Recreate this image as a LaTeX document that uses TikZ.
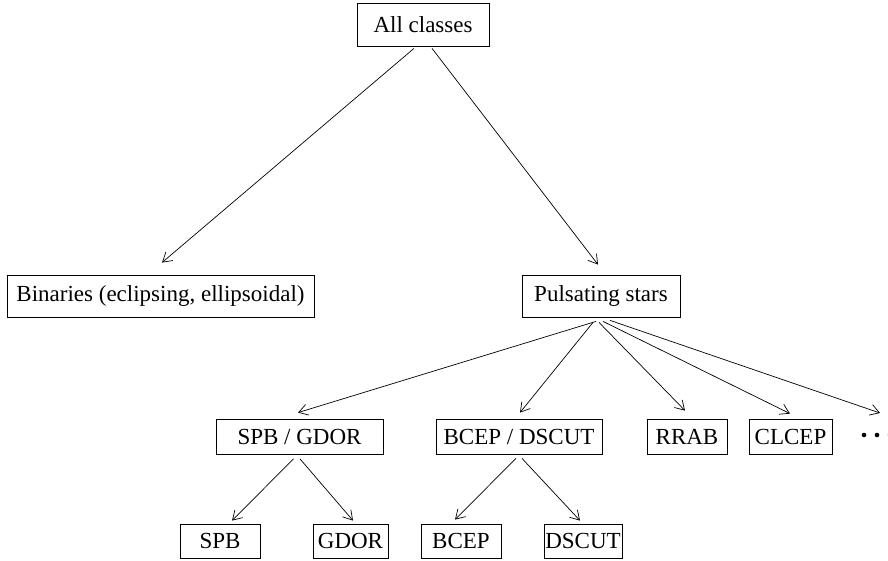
\documentclass[tikz,border=0pt]{standalone}
\usepackage{fontspec}
\setmainfont{Liberation Serif}
\usetikzlibrary{arrows.meta}
\begin{document}
\begin{tikzpicture}[x=1pt,y=-1pt,
  box/.style={draw,line width=0.8pt,inner sep=0pt,font=\fontsize{23}{26}\selectfont,anchor=center},
  conn/.style={line width=0.7pt,-{Straight Barb[length=9pt,width=11pt,line width=0.7pt]}}]
\useasboundingbox (0,0) rectangle (888,561);
% top level
\node[box,minimum width=132pt,minimum height=43pt] (all) at (423,24.5) {All classes};
\node[box,minimum width=307pt,minimum height=42pt] (bin) at (160.5,296) {Binaries (eclipsing, ellipsoidal)};
\node[box,minimum width=158pt,minimum height=42pt] (pul) at (601,296) {Pulsating stars};
% middle level
\node[box,minimum width=167pt,minimum height=35pt] (sg) at (299.5,436.5) {SPB / GDOR};
\node[box,minimum width=166pt,minimum height=35pt] (bd) at (519,436.5) {BCEP / DSCUT};
\node[box,minimum width=80pt,minimum height=35pt] (rrab) at (687,436.5) {RRAB};
\node[box,minimum width=83pt,minimum height=35pt] (clcep) at (790.5,436.5) {CLCEP};
\node[inner sep=0pt,minimum size=4pt] (dots) at (877,435) {};
\fill ([xshift=-13pt]dots.center) circle (2.3pt);
\fill (dots.center) circle (2.3pt);
\fill ([xshift=13pt]dots.center) circle (2.3pt);
% bottom level
\node[box,minimum width=80pt,minimum height=34pt] (spb) at (220,541) {SPB};
\node[box,minimum width=75pt,minimum height=34pt] (gdor) at (350.5,541) {GDOR};
\node[box,minimum width=80pt,minimum height=34pt] (bcep) at (461,541) {BCEP};
\node[box,minimum width=78pt,minimum height=34pt] (dscut) at (583,541) {DSCUT};
% connectors
\draw[conn] ([xshift=-9pt,yshift=-2pt]all.south) -- ([xshift=1.5pt,yshift=12pt]bin.north);
\draw[conn] ([xshift=9pt,yshift=-2pt]all.south) -- ([xshift=-3pt,yshift=10pt]pul.north);
\draw[conn] ([xshift=-5pt,yshift=-4pt]pul.south) -- ([xshift=-1.5pt,yshift=6pt]sg.north);
\draw[conn] ([xshift=-8pt,yshift=-5pt]pul.south) -- ([xshift=1pt,yshift=6pt]bd.north);
\draw[conn] ([xshift=-2pt,yshift=-5pt]pul.south) -- ([xshift=-2pt,yshift=8pt]rrab.north);
\draw[conn] ([xshift=2pt,yshift=-4pt]pul.south) -- ([xshift=-0.5pt,yshift=5pt]clcep.north);
\draw[conn] ([xshift=9pt,yshift=-3pt]pul.south) -- ([xshift=3pt,yshift=22pt]dots.center);
\draw[conn] ([xshift=-6pt,yshift=-4.5pt]sg.south) -- ([xshift=12pt,yshift=3pt]spb.north);
\draw[conn] ([xshift=0.5pt,yshift=-4.5pt]sg.south) -- ([xshift=2.5pt,yshift=3pt]gdor.north);
\draw[conn] ([xshift=-3pt,yshift=-4pt]bd.south) -- ([xshift=-6pt,yshift=4pt]bcep.north);
\draw[conn] ([xshift=3pt,yshift=-4pt]bd.south) -- ([xshift=-3pt,yshift=3pt]dscut.north);
\end{tikzpicture}
\end{document}
